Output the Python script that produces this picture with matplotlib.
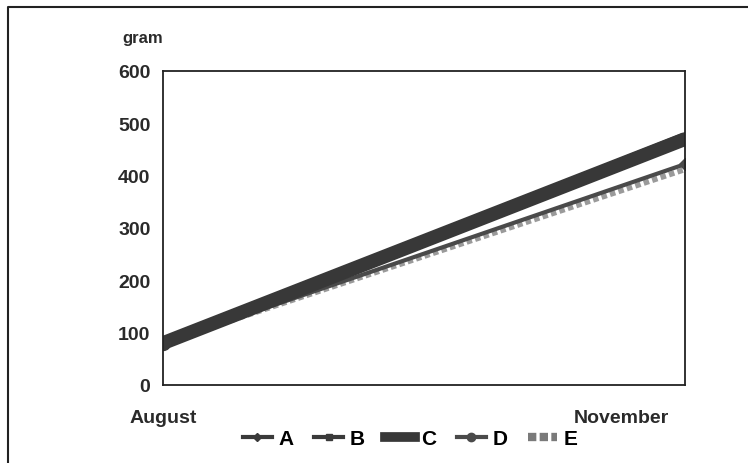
import matplotlib.pyplot as plt
import matplotlib.transforms as mtransforms
from matplotlib.lines import Line2D

months = ["August", "November"]
series = ["A", "B", "C", "D", "E"]
A = [80, 478]
B = [80, 465]
C = [80, 470]
D = [80, 422]
E = [80, 412]
y_ticks = [0, 100, 200, 300, 400, 500, 600]

plt.rcParams["font.family"] = ["Liberation Sans", "DejaVu Sans"]
plt.rcParams["font.weight"] = "bold"

fig = plt.figure(figsize=(7.48, 4.64), dpi=100)
ax = fig.add_axes([163 / 748, 1 - 386 / 464, (685 - 163) / 748, (386 - 72) / 464])

x = [0, 1]
ax.plot(x, E, color="#9a9a9a", lw=4, ls=(0, (1, 0.6)), solid_capstyle="butt")
ax.plot(x, D, color="#4a4a4a", lw=3, marker="D", ms=6, markevery=[1])
ax.plot(x, B, color="#333333", lw=5)
ax.plot(x, A, color="#3a3a3a", lw=4)
ax.plot(x, C, color="#383838", lw=10, solid_capstyle="butt")
ax.plot([0], [80], "o", color="#3a3a3a", ms=10)

ax.set_xlim(0, 1)
ax.set_ylim(0, 600)
ax.set_yticks(y_ticks)
ax.set_yticklabels([str(v) for v in y_ticks], fontsize=14, color="#2a2a2a", fontweight="heavy")
ax.tick_params(axis="y", length=0, pad=9)
ax.set_xticks(x)
ax.set_xticklabels(months, fontsize=14, color="#2a2a2a", fontweight="heavy")
ax.tick_params(axis="x", length=0, pad=17)
# second month label sits well inside the right edge
lbl = ax.get_xticklabels()[1]
lbl.set_transform(lbl.get_transform() + mtransforms.ScaledTranslation(-0.64, 0, fig.dpi_scale_trans))

for s in ax.spines.values():
    s.set_color("#222222")
    s.set_linewidth(1.3)
ax.spines["top"].set_linestyle((0, (4, 1)))
ax.spines["right"].set_linestyle((0, (4, 1)))

fig.text(122 / 748, 1 - 38 / 464, "gram", fontsize=12, color="#2a2a2a", fontweight="heavy", va="center")

handles = [
    Line2D([], [], color="#3a3a3a", lw=3, marker="D", ms=4),
    Line2D([], [], color="#3a3a3a", lw=3, marker="s", ms=4),
    Line2D([], [], color="#383838", lw=7),
    Line2D([], [], color="#4a4a4a", lw=3, marker="o", ms=6),
    Line2D([], [], color="#7a7a7a", lw=6, ls=(0, (1, 0.4))),
]
fig.legend(handles, series, loc="center", bbox_to_anchor=(410 / 748, 1 - 440 / 464), ncol=5,
           frameon=False, fontsize=15, handlelength=1.4, handletextpad=0.3, columnspacing=1.0)

# outer border of the chart area
fig.add_artist(Line2D([8 / 748, 8 / 748, 747 / 748], [0.0, 1 - 8 / 464, 1 - 8 / 464],
                      transform=fig.transFigure, color="#222222", lw=1.5))

fig.savefig("out.png", dpi=100)
